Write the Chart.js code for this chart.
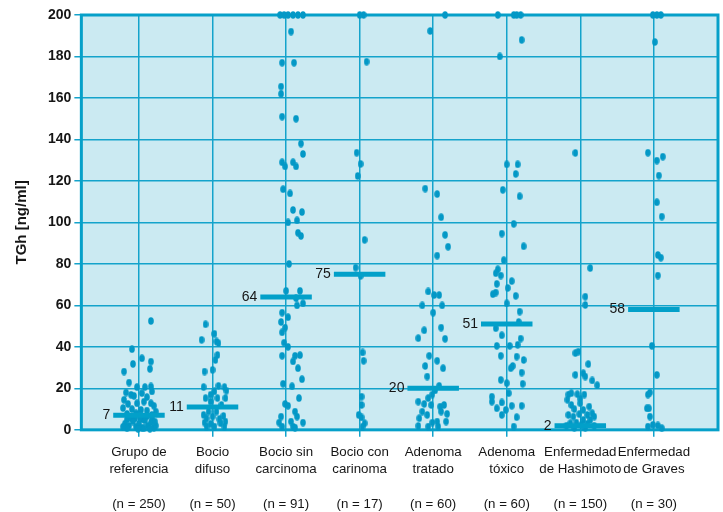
<!DOCTYPE html>
<html>
<head>
<meta charset="utf-8">
<script src="https://cdn.jsdelivr.net/npm/chart.js@4/dist/chart.umd.min.js"></script>
<style>
  html, body { margin: 0; padding: 0; background: #ffffff; }
  #wrap { width: 723px; height: 512px; }
</style>
</head>
<body>
<div id="wrap"><canvas id="c" width="723" height="512"></canvas></div>
<script>
// ---------- DATA ----------
const categories = [
  ['Grupo de', 'referencia'],
  ['Bocio', 'difuso'],
  ['Bocio sin', 'carcinoma'],
  ['Bocio con', 'carinoma'],
  ['Adenoma', 'tratado'],
  ['Adenoma', 'tóxico'],
  ['Enfermedad', 'de Hashimoto'],
  ['Enfermedad', 'de Graves']
];
const counts = ['(n = 250)', '(n = 50)', '(n = 91)', '(n = 17)', '(n = 60)', '(n = 60)', '(n = 150)', '(n = 30)'];
const medians = [7, 11, 64, 75, 20, 51, 2, 58];
const yTicks = [0, 20, 40, 60, 80, 100, 120, 140, 160, 180, 200];

// each point: [horizontal jitter in 1/74 of a category step, TGh value]
const grupoReferencia = [
  [12,52.5],[-7,38.9],[3,34.5],[-6,31.8],[12,32.9],[11,29.4],[-15,28.1],[-10,22.8],[-2,20.6],[6,20.6],
  [12,20.9],[13,18.5],[-13,18],[-8,16.9],[-5,16.4],[3,17.7],[8,15.8],[-15,14.5],[-11,12.5],[-2,12.8],
  [5,13.6],[12,12.8],[15,11.6],[-16,10.5],[-7,10],[2,9.6],[8,9.3],[17,8.8],[-12,7.7],[-3,8],
  [13,7.2],[-12,5],[-4,5.5],[4,5],[13,5.5],[-8,5.5],[1,6],[8,6.5],[-14,3],[-10,2],
  [-6,4],[-3,1.5],[0,3],[3,1],[6,4.5],[9,2],[12,3.5],[15,1],[-12,0.8],[-1,0.5],
  [5,0.8],[11,0.5],[17,2],[-16,1.5],[16,4]
];
const bocioDifuso = [
  [-7,50.9],[2,46.3],[-11,43.4],[4,42.6],[6,41.8],[5,36.1],[3,33.7],[0,28.9],[-8,28.1],[-9,20.6],
  [6,21.2],[12,20.6],[14,18.9],[2,18.5],[-2,16.9],[-7,15.3],[5,15.3],[13,15.3],[-2,13.6],[9,12],
  [-4,8.8],[4,8.8],[-9,7.2],[11,6.7],[-6,5.6],[0,6.4],[7,5.2],[-8,3.5],[-2,2.9],[8,3.2],
  [13,4],[-6,1.6],[2,1.6],[12,1.6]
];
const bocioSinCarcinoma = [
  [-6,200],[-2,200],[2,200],[7,200],[12,200],[17,200],[5,192],[-4,177],[8,177],[-5,165.5],
  [-5,162],[-4,151],[10,150],[15,138],[17,133],[-4,129],[-1,127],[7,129],[10,127],[-3,116],
  [4,114],[7,106],[16,105],[2,100],[11,101],[12,95],[15,93.5],[3,80],[0,67],[14,67],
  [10,63.5],[11,60],[17,61],[-4,56.5],[2,54.3],[-5,52],[-1,49.3],[-4,47],[-2,42],[2,40],
  [-4,35.7],[9,35.7],[14,36],[7,33],[12,29.7],[16,24.4],[-3,22.2],[6,21],[13,15.3],[-1,12.5],
  [2,11.6],[9,8.8],[11,6.4],[-5,6.4],[-7,3.5],[5,4],[17,3.5],[7,1.6],[-4,1.6],[9,1.1]
];
const bocioConCarcinoma = [
  [0,200],[4,200],[7,177.5],[-3,133.6],[1,128.2],[-2,122.4],[5,91.6],[-4,78.2],[1,74.2],[3,37.3],
  [4,33.3],[2,16],[2,12],[-1,7.2],[2,6],[5,3.2],[3,1.6]
];
const adenomaTratado = [
  [12,200],[-3,192.3],[-8,116.3],[4,113.7],[8,102.5],[12,94],[15,88.3],[4,84],[-5,66.7],[1,65],
  [6,65],[-11,60],[9,60],[0,56.5],[-9,48],[8,49.3],[-15,44.2],[12,43.9],[-4,35.7],[4,33.3],
  [-8,30.8],[10,29.7],[-6,25.7],[6,21.2],[2,19],[-1,17],[-5,15.3],[-15,13.6],[-9,12.5],[-2,12],
  [7,11.2],[11,12],[-11,8.8],[-6,7.2],[8,8.8],[14,7.7],[-14,5.6],[13,4],[-1,3.5],[-15,1.9],
  [-5,1.6],[5,1.6],[4,4]
];
const adenomaToxico = [
  [-9,200],[7,200],[10,200],[14,200],[15,188],[-7,180],[0,128],[11,128],[9,123.4],[-4,115.7],
  [13,112.6],[7,99.3],[-5,94.6],[17,88.5],[-3,81.8],[-9,77.4],[-11,75.5],[-6,74.4],[5,71.7],[-10,70.4],
  [1,68.4],[-14,65.4],[-11,66.2],[9,64.6],[0,61],[13,57],[12,52],[-11,49],[-5,45.6],[14,44],
  [-10,40.5],[3,40.5],[11,41],[-6,35.7],[17,33.7],[10,35.3],[6,30.8],[4,29.7],[15,27.6],[-6,24.1],
  [0,22.5],[16,22.2],[2,17.7],[-15,16],[-15,13.6],[-5,13.2],[-10,10.4],[-1,9.6],[5,11.6],[15,11.6],
  [-5,7.2],[10,6.1],[7,1.6]
];
const hashimoto = [
  [-5,133.5],[10,78],[5,64.2],[5,60.2],[-5,37],[-2,37.7],[8,31.7],[-5,26.5],[3,27.3],[5,25.7],
  [12,23.8],[17,21.5],[-12,17],[-9,17.7],[-3,17.2],[4,17],[-13,14.5],[0,15],[-9,12],[0,12.8],
  [9,11.2],[-6,10],[3,9.6],[-12,7.2],[-7,6.4],[-1,7.6],[7,7.2],[12,8],[14,6.4],[10,4.8],
  [3,4.8],[-4,3.5],[-10,3.2],[7,2.9],[1,2.4],[-14,2],[14,2],[-6,1],[5,1]
];
const graves = [
  [-1,200],[3,200],[7,200],[1,187],[-6,133.6],[3,129.8],[9,131.7],[5,122.6],[3,109.7],[8,102.8],
  [4,84.3],[7,83],[4,74.4],[-2,40.5],[3,26.5],[-6,17],[-4,18],[-7,10.4],[-5,10.4],[-4,6.4],
  [-6,1.6],[-1,2.4],[4,2.1],[8,0.8]
];
const groups = [grupoReferencia, bocioDifuso, bocioSinCarcinoma, bocioConCarcinoma,
                adenomaTratado, adenomaToxico, hashimoto, graves];

// ---------- STYLE ----------
const DOT = '#0398c6';
const LINE = '#14a3cb';
const BAR = '#02a0c9';
const BG = '#cbeaf2';
const TXT = '#161616';
const FONT = '"Liberation Sans", Arial, Helvetica, sans-serif';
const JITTER_STEP = 74;
const HALF_BAR = 0.35;

const dotImg = document.createElement('canvas');
dotImg.width = 6; dotImg.height = 8;
(function () {
  const g = dotImg.getContext('2d');
  g.fillStyle = DOT;
  g.beginPath();
  g.ellipse(3, 4, 2.8, 3.8, 0, 0, Math.PI * 2);
  g.fill();
})();

const dotData = [];
groups.forEach((g, i) => g.forEach(([j, v]) => dotData.push({ x: i + j / JITTER_STEP, y: v })));

const barData = [];
medians.forEach((m, i) => {
  barData.push({ x: i - HALF_BAR, y: m });
  barData.push({ x: i + HALF_BAR, y: m });
  barData.push({ x: i + 0.5, y: null });
});

const bgPlugin = {
  id: 'bg',
  beforeDraw(chart) {
    const { ctx, chartArea: a } = chart;
    ctx.save();
    ctx.fillStyle = BG;
    ctx.fillRect(a.left, a.top, a.right - a.left, a.bottom - a.top);
    ctx.restore();
  }
};
const framePlugin = {
  id: 'frame',
  beforeDatasetsDraw(chart) {
    const { ctx, chartArea: a } = chart;
    ctx.save();
    ctx.strokeStyle = '#06a0c9';
    ctx.lineWidth = 3;
    ctx.strokeRect(a.left, a.top, a.right - a.left, a.bottom - a.top);
    ctx.restore();
  }
};
const medianLabelPlugin = {
  id: 'medLabels',
  afterDatasetsDraw(chart) {
    const { ctx, scales } = chart;
    ctx.save();
    ctx.font = '14px ' + FONT;
    ctx.fillStyle = TXT;
    ctx.textAlign = 'right';
    ctx.textBaseline = 'middle';
    medians.forEach((m, i) => {
      const x = scales.x.getPixelForValue(i - HALF_BAR) - 3;
      const y = scales.y.getPixelForValue(m);
      ctx.fillText(String(m), x, y);
    });
    ctx.restore();
  }
};

new Chart(document.getElementById('c'), {
  data: {
    datasets: [
      {
        type: 'line',
        data: barData,
        borderColor: BAR,
        borderWidth: 5,
        borderCapStyle: 'butt',
        pointRadius: 0,
        spanGaps: false,
        clip: false,
        order: 0
      },
      {
        type: 'scatter',
        data: dotData,
        pointStyle: dotImg,
        pointRadius: 3,
        clip: false,
        order: 1
      }
    ]
  },
  options: {
    responsive: false,
    animation: false,
    events: [],
    layout: { padding: { left: 8, top: 15, right: 0, bottom: 0 } },
    plugins: { legend: { display: false }, tooltip: { enabled: false } },
    scales: {
      x: {
        type: 'linear',
        min: -0.783,
        max: 7.872,
        afterBuildTicks(scale) { scale.ticks = categories.map((c, i) => ({ value: i })); },
        afterFit(scale) { scale.height -= 8; },
        grid: { color: LINE, lineWidth: 1.5, tickLength: 7, drawTicks: true },
        border: { display: false },
        ticks: {
          autoSkip: false,
          maxRotation: 0,
          padding: 7,
          color: TXT,
          font: { family: FONT, size: 13.3, lineHeight: 1.3 },
          callback(v) {
            const i = Math.round(v);
            return [categories[i][0], categories[i][1], '', counts[i]];
          }
        }
      },
      y: {
        type: 'linear',
        min: 0,
        max: 200,
        afterBuildTicks(scale) { scale.ticks = yTicks.map(v => ({ value: v })); },
        grid: { color: LINE, lineWidth: 1.5, tickLength: 7 },
        border: { display: false },
        ticks: {
          padding: 3,
          color: TXT,
          font: { family: FONT, size: 14, weight: 'bold' }
        },
        title: {
          display: true,
          text: 'TGh [ng/ml]',
          color: TXT,
          padding: { top: 5, bottom: 14 },
          font: { family: FONT, size: 15, weight: 'bold' }
        }
      }
    }
  },
  plugins: [bgPlugin, framePlugin, medianLabelPlugin]
});
</script>
</body>
</html>
